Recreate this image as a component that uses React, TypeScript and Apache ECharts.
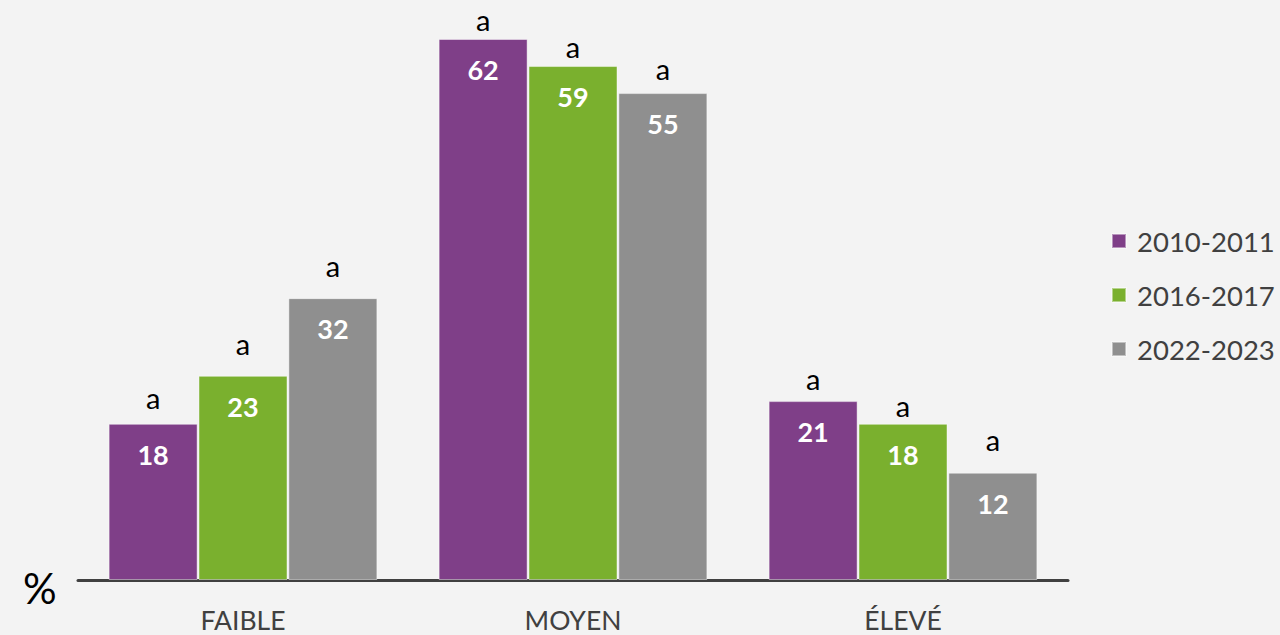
import React, { useEffect, useRef } from "react";
import * as echarts from "echarts";

const categories = ["FAIBLE", "MOYEN", "ÉLEVÉ"];
const seriesNames = ["2010-2011", "2016-2017", "2022-2023"];
// bar heights
const values2010 = [17.9, 62.0, 20.5];
const values2016 = [23.4, 58.9, 17.9];
const values2022 = [32.3, 55.8, 12.3];
// numbers printed inside the bars
const labels2010 = ["18", "62", "21"];
const labels2016 = ["23", "59", "18"];
const labels2022 = ["32", "55", "12"];
// significance letters above the bars
const significance2010 = ["a", "a", "a"];
const significance2016 = ["a", "a", "a"];
const significance2022 = ["a", "a", "a"];

// styling: colours and how far each letter sits above its bar (px)
const colors = ["#7F3F88", "#7AB02E", "#8F8F8F"];
const letterRaise = [
  [23, 17, 20],
  [29, 17, 15],
  [30, 22, 30],
];

const FONT = "Lato, 'Open Sans', sans-serif";

export default function App() {
  const ref = useRef<HTMLDivElement>(null);
  useEffect(() => {
    document.body.style.margin = "0";
    if (!ref.current) return;
    const chart = echarts.init(ref.current, null, { renderer: "svg" });
    const allValues = [values2010, values2016, values2022];
    const allLabels = [labels2010, labels2016, labels2022];
    const allSig = [significance2010, significance2016, significance2022];
    chart.setOption({
      animation: false,
      backgroundColor: "#F3F3F3",
      textStyle: { fontFamily: FONT },
      grid: { left: 78, right: 212, top: 39, bottom: 55 },
      legend: {
        orient: "vertical",
        left: 1106,
        top: 222,
        itemWidth: 14,
        itemHeight: 14,
        itemGap: 26,
        icon: "rect",
        data: seriesNames,
        textStyle: {
          color: "#404040",
          fontSize: 27.5,
          fontFamily: FONT,
          lineHeight: 27,
          padding: [0, 0, 0, 6],
        },
      },
      xAxis: {
        type: "category",
        data: categories,
        axisLine: { show: true, lineStyle: { color: "#404040", width: 3 } },
        axisTick: { show: false },
        axisLabel: { color: "#404040", fontSize: 26.5, margin: 26, fontFamily: FONT },
      },
      yAxis: {
        type: "value",
        min: 0,
        max: 62,
        show: false,
        splitLine: { show: false },
      },
      graphic: [
        {
          type: "text",
          left: 23,
          top: 567,
          style: { text: "%", fontSize: 42, fill: "#000", fontFamily: FONT },
        },
      ],
      series: seriesNames.map((name, i) => ({
        name,
        type: "bar",
        barWidth: 89,
        barGap: "1%",
        itemStyle: {
          color: colors[i],
          borderColor: "rgba(255,255,255,0.45)",
          borderWidth: 1,
        },
        data: allValues[i].map((v, j) => {
          const l1 = 2 * (letterRaise[i][j] + 8.5);
          return {
            value: v,
            label: {
              show: true,
              position: "insideTop",
              distance: 0,
              offset: [0, 5.5 - l1],
              formatter: `{s|${allSig[i][j]}}\n{v|${allLabels[i][j]}}`,
              rich: {
                s: { fontSize: 29, color: "#000", lineHeight: l1, fontFamily: FONT },
                v: {
                  fontSize: 27,
                  fontWeight: "bold",
                  color: "#fff",
                  lineHeight: 50,
                  fontFamily: FONT,
                },
              },
            },
          };
        }),
      })),
    });
    return () => chart.dispose();
  }, []);
  return <div ref={ref} style={{ width: 1280, height: 635 }} />;
}
